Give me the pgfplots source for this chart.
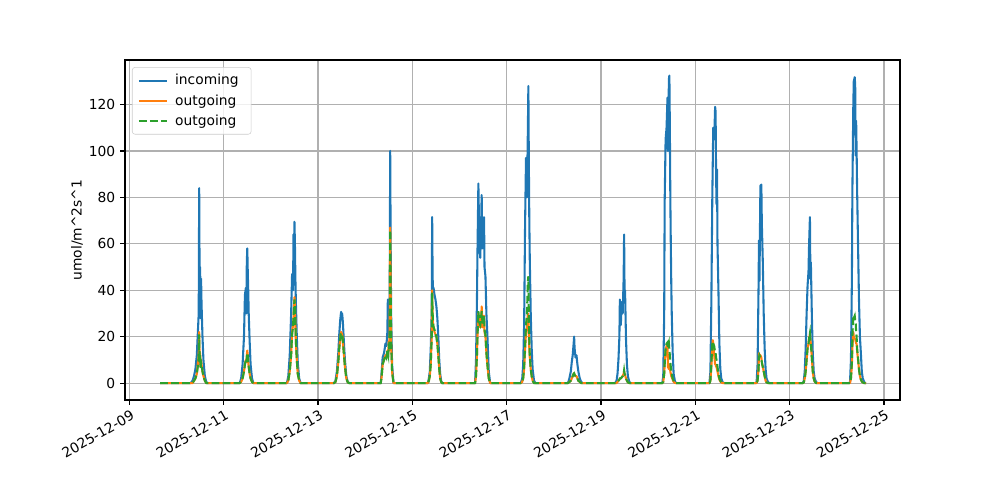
\documentclass[border=0pt]{standalone}
\usepackage{fontspec}
\setmainfont{DejaVu Sans}
\usepackage{pgfplots}
\usepackage{pgfplotstable}
\pgfplotsset{compat=1.18}
\definecolor{C0}{HTML}{1F77B4}
\definecolor{C1}{HTML}{FF7F0E}
\definecolor{C2}{HTML}{2CA02C}
\definecolor{gridc}{HTML}{B0B0B0}

% x = days since 2025-12-09 00:00
\pgfplotstableread{
x in o1 o2
0.654 0 0 0
1.30 0 0 0
1.34 1 0 0
1.37 3 1 1
1.40 6 2 2
1.43 12 4 4
1.45 21 8 7
1.47 30 12 11
1.48 84 22 21
1.49 40 10 9
1.50 50 13 12
1.51 28 7 6
1.52 45 10 9
1.53 34 8 8
1.55 20 5 5
1.57 10 3 3
1.60 3 1 1
1.63 0.5 0 0
1.66 0 0 0
2.34 0 0 0
2.37 2 0.5 0.5
2.40 8 2 2
2.43 20 5 5
2.45 38 8 8
2.47 41 10 10
2.48 30 9 9
2.49 52 12 11
2.50 58 14 13
2.51 48 12 12
2.52 40 9 9
2.53 30 7 7
2.55 18 4 4
2.57 8 2 2
2.60 2 0.5 0.5
2.63 0 0 0
3.34 0 0 0
3.37 3 1 1
3.40 12 5 5
3.43 30 12 12
3.45 47 22 21
3.47 40 25 24
3.48 64 28 29
3.49 55 33 32
3.50 69.5 37 36
3.51 60 33 34
3.52 45 25 26
3.53 35 18 18
3.55 20 10 10
3.57 9 4 4
3.60 2 1 1
3.63 0 0 0
4.34 0 0 0
4.37 1 0.5 0.5
4.40 5 3 3
4.43 13 9 9
4.45 21 15 15
4.47 27 19 19
4.48 29 21 21
4.49 30.7 22 21.5
4.50 29 21.5 21.5
4.51 30 21 21
4.52 28 20 20
4.53 25 17 17
4.55 17 12 12
4.57 10 7 7
4.60 3 2 2
4.63 0.5 0.3 0.3
4.66 0 0 0
5.33 0 0 0
5.35 5 3 3
5.37 11 8 8
5.40 13 10 10
5.43 17 12 12
5.45 16 11 11
5.47 22 14 14
5.48 36 12 13
5.49 20 13 12
5.50 28 18 17
5.51 24 14 14
5.52 40 25 24
5.53 100 67 66
5.54 60 40 39
5.55 30 18 18
5.57 8 5 5
5.60 0 0 0
6.33 0 0 0
6.35 2 1 1
6.37 5 3 3
6.39 15 8 8
6.41 30 20 19
6.42 71.5 40 39
6.43 45 28 30
6.44 40 25 26
6.45 41 24 24
6.47 38 22 23
6.49 36 21 21
6.51 33 20 20
6.53 28 17 17
6.55 20 12 12
6.57 10 6 6
6.59 4 2 2
6.61 1 0.5 0.5
6.63 0 0 0
7.33 0 0 0
7.35 10 3 3
7.37 36 12 12
7.38 55 20 19
7.40 86 30 31
7.42 60 25 26
7.44 54 24 25
7.46 70 28 29
7.47 81 33 31
7.48 65 28 28
7.49 58 24 25
7.51 62 26 27
7.52 71.5 29 29
7.53 50 22 23
7.55 46 20 21
7.57 30 13 13
7.59 21 8 8
7.62 5 2 2
7.65 0 0 0
8.30 0 0 0
8.33 2 0.5 0.5
8.35 8 2 2
8.37 25 6 7
8.39 68 14 16
8.41 97 22 25
8.43 80 24 30
8.45 110 30 44
8.46 128 28 46
8.47 95 20 28
8.48 70 15 18
8.49 53 11 12
8.51 30 6 6
8.53 15 3 3
8.55 6 1 1
8.58 1 0 0
8.61 0 0 0
9.30 0 0 0
9.33 2 0.5 0.5
9.36 5 1 1
9.38 9 2 2
9.40 12 3 3
9.42 17 4 4
9.43 20 4.2 4.2
9.44 15 3.5 3.5
9.46 11 3 3
9.48 12 3 3
9.50 8 2 2
9.52 5 1 1
9.55 2 0.5 0.5
9.58 0.5 0 0
9.61 0 0 0
10.30 0 0 0
10.33 1 0 0
10.35 4 0.5 0.5
10.37 10 1 1
10.39 20 1.5 1.5
10.40 36 2 2
10.42 25 2 2
10.44 35 2.5 2.5
10.46 30 3 3
10.48 45 4 4
10.49 64 5 5.5
10.50 38 4 4
10.51 40 3.5 3.5
10.53 19 2 2
10.55 8 1 1
10.57 3 0.3 0.3
10.60 0.5 0 0
10.63 0 0 0
11.30 0 0 0
11.32 3 0.5 0.5
11.34 30 4 4
11.35 78 8 8
11.37 105 14 15
11.39 110 16 17
11.41 123 17 17.5
11.42 100 7 15
11.44 131 6 17
11.45 132.5 8 14
11.46 110 7 12
11.47 80 5 9
11.48 60 4 7
11.49 43 3 5
11.50 30 2.5 4
11.52 13 1.5 2
11.54 4 0.5 1
11.57 0.5 0 0
11.60 0 0 0
12.30 0 0 0
12.32 5 1 1
12.34 35 7 8
12.36 80 16 17
12.37 95 18.5 18
12.38 110 17 17
12.40 105 12 16
12.42 119 8 13
12.43 117 8 13
12.44 90 7 11
12.45 77 7 10
12.46 92 6 9
12.47 60 5 7
12.49 40 3 4
12.51 17 1.5 2
12.53 6 0.7 1
12.55 2 0.3 0.5
12.58 0.3 0 0
12.61 0 0 0
13.28 0 0 0
13.30 0.5 0 0
13.32 8 1 1
13.34 40 6 5
13.35 61.5 12.9 11
13.36 44 11 12
13.38 85 12 11
13.40 85.5 11 10.5
13.41 69 9 9
13.43 53 7 7
13.45 30 5 5
13.47 15 3 3
13.49 6 1 1
13.51 2 0.3 0.3
13.54 0.5 0 0
13.57 0 0 0
14.28 0 0 0
14.30 1 0.3 0.3
14.32 5 2 2
14.34 15 5 5
14.36 30 10 10
14.38 42 15 15
14.40 48 17 17
14.41 58 19 19
14.43 71.5 21 21.5
14.44 45 18 18
14.45 52 17 17
14.47 30 11 11
14.49 13 5 5
14.51 5 2 2
14.53 2 0.7 0.7
14.56 0.5 0 0
14.59 0 0 0
15.26 0 0 0
15.28 0.5 0 0
15.30 10 2 2
15.32 45 8 9
15.33 82 15 20
15.35 120 22 29
15.36 130 20 28
15.38 131.8 19 29
15.39 128 19 27
15.40 98 18 26
15.41 113 17 22
15.42 100 17 20
15.43 84 14 15
15.45 60 10 11
15.47 36 6 6
15.49 20 3 3
15.51 13 1.5 1.5
15.53 5 0.7 0.7
15.55 2 0.3 0.3
15.58 0.5 0 0
15.60 0 0 0
15.62 0 0 0
}\data

\begin{document}
\begin{tikzpicture}
\begin{axis}[
  scale only axis, width=7.75in, height=3.4in,
  xmin=-0.093, xmax=16.34, ymin=-7.3, ymax=139.2,
  xtick={0,2,...,16},
  xticklabels={2025-12-09,2025-12-11,2025-12-13,2025-12-15,2025-12-17,2025-12-19,2025-12-21,2025-12-23,2025-12-25},
  ytick={0,20,...,120},
  /pgf/number format/assume math mode=true,
  grid=major,
  major grid style={color=gridc, line width=0.8pt},
  axis line style={line width=0.8pt},
  tick style={black, line width=0.8pt},
  tick align=outside, major tick length=3.5pt,
  xtick pos=lower, ytick pos=left,
  xticklabel style={rotate=30, anchor=north east, font=\fontsize{10}{12}\selectfont, inner sep=1pt, yshift=-2pt},
  yticklabel style={font=\fontsize{10}{12}\selectfont},
  ylabel={umol/m\textasciicircum 2s\textasciicircum 1},
  every axis y label/.style={at={(rel axis cs:-0.062,0.5)}, rotate=90, anchor=center, font=\fontsize{10}{12}\selectfont},
  legend style={at={(0.009,0.979)}, anchor=north west, draw=black!20, rounded corners=2pt,
    fill=white, fill opacity=0.8, text opacity=1, font=\fontsize{10}{12}\selectfont,
    row sep=1.5pt, inner xsep=4pt, inner ysep=3pt,
    nodes={inner xsep=5pt}},
  legend cell align=left,
  legend image code/.code={\draw[#1] (0cm,0cm) -- (0.72cm,0cm);},
]
\coordinate (O) at (rel axis cs:0,0);
\addplot[C0, line width=1.5pt, line join=round] table[x=x, y=in] {\data};
\addlegendentry{incoming}
\addplot[C1, line width=1.5pt, line join=round] table[x=x, y=o1] {\data};
\addlegendentry{outgoing}
\addplot[C2, line width=1.5pt, dash pattern=on 5.55pt off 2.4pt] table[x=x, y=o2] {\data};
\addlegendentry{outgoing}
\end{axis}
\pgfresetboundingbox
\useasboundingbox ([shift={(-1.25in,-1in)}]O) rectangle ++(10in,5in);
\end{tikzpicture}
\end{document}
